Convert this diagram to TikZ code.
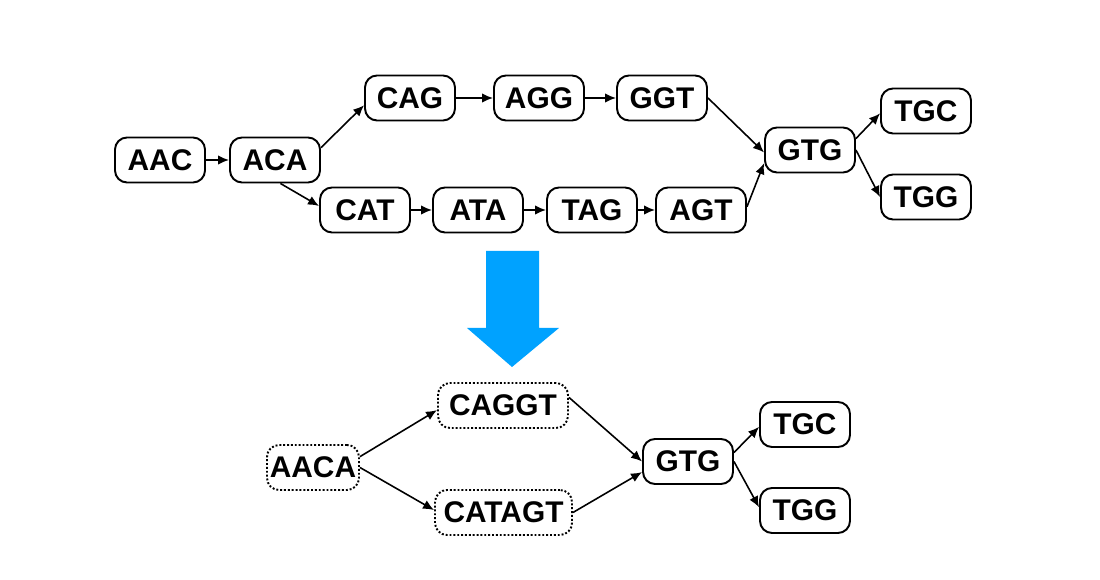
\documentclass[tikz,border=0pt]{standalone}
\usepackage{fontspec}
\setmainfont{Liberation Sans}
\usepackage{tikz}
\usetikzlibrary{arrows.meta}
\definecolor{arrowblue}{HTML}{00A2FF}
\tikzset{
  kmer/.style={draw,line width=1.1pt,rounded corners=0.24cm,minimum width=1.8cm,
    minimum height=0.9cm,inner sep=1pt,font=\fontsize{17}{19}\selectfont\bfseries},
  unitig/.style={kmer,dash pattern=on 1.1pt off 1.1pt},
  edge/.style={-{Latex[length=0.22cm,width=0.19cm]},line width=0.9pt}
}

\begin{document}
\begin{tikzpicture}[x=0.02cm,y=-0.02cm]
  \useasboundingbox (0,0) rectangle (1100,580);
  % de Bruijn graph of k-mers
  \node[kmer] (aac) at (160,160) {AAC};
  \node[kmer] (aca) at (275,160) {ACA};
  \node[kmer] (cag) at (410,98) {CAG};
  \node[kmer] (agg) at (539,98) {AGG};
  \node[kmer] (ggt) at (662,98) {GGT};
  \node[kmer] (cat) at (365,210) {CAT};
  \node[kmer] (ata) at (478,210) {ATA};
  \node[kmer] (tag) at (592,210) {TAG};
  \node[kmer] (agt) at (701,210) {AGT};
  \node[kmer] (gtg) at (810,150) {GTG};
  \node[kmer] (tgc) at (926,111) {TGC};
  \node[kmer] (tgg) at (926,197) {TGG};
  \draw[edge] (aac)--(aca);
  \draw[edge] (aca.15)--(cag.189);
  \draw[edge] (aca.-77)--(cat.175);
  \draw[edge] (cag)--(agg);
  \draw[edge] (agg)--(ggt);
  \draw[edge] (ggt.east)--(gtg.183);
  \draw[edge] (cat)--(ata);
  \draw[edge] (ata)--(tag);
  \draw[edge] (tag)--(agt);
  \draw[edge] (agt.4)--(gtg.196);
  \draw[edge] (gtg.14)--(tgc.183);
  \draw[edge] (gtg.east)--(tgg.west);
  % compaction arrow
  \fill[arrowblue] (486,251)--(539,251)--(539,328)--(559,328)--(512,367)
    --(467,328)--(486,328)--cycle;
  % compacted graph
  \node[unitig,minimum width=1.84cm] (uaaca) at (313,467.5) {AACA};
  \node[unitig,minimum width=2.6cm] (ucaggt) at (503,405.5) {CAGGT};
  \node[unitig,minimum width=2.74cm] (ucatagt) at (503.5,512.5) {CATAGT};
  \node[kmer] (ugtg) at (688,461.5) {GTG};
  \node[kmer] (utgc) at (805,424.5) {TGC};
  \node[kmer] (utgg) at (805,510.5) {TGG};
  \draw[edge] (uaaca.13)--(ucaggt.184);
  \draw[edge] (uaaca.east)--(ucatagt.178);
  \draw[edge] (ucaggt.7)--(ugtg.west);
  \draw[edge] (ucatagt.east)--(ugtg.193);
  \draw[edge] (ugtg.11)--(utgc.183);
  \draw[edge] (ugtg.east)--(utgg.176);
\end{tikzpicture}
\end{document}
